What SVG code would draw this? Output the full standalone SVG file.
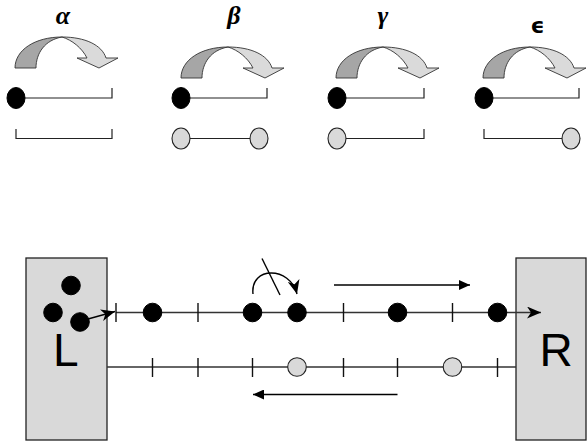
<svg xmlns="http://www.w3.org/2000/svg" xmlns:xlink="http://www.w3.org/1999/xlink" width="587" height="442" viewBox="0 0 587 442">
<style>
.greek{font-family:"Liberation Serif","DejaVu Serif",serif;font-weight:bold;font-style:italic;font-size:26px;fill:#000;text-anchor:middle}
.eps{font-family:"DejaVu Sans","Liberation Sans",sans-serif;font-weight:bold;font-size:22px;fill:#000;text-anchor:middle}
.big{font-family:"Liberation Sans",Arial,sans-serif;font-size:46px;fill:#000}
.thin{stroke:#222;stroke-width:1.2;fill:none}
.bdot{fill:#000;stroke:#000;stroke-width:1}
.gdot{fill:#d9d9d9;stroke:#222;stroke-width:1.1}
.box{fill:#d9d9d9;stroke:#222;stroke-width:1.3}
.track{stroke:#333;stroke-width:1.4;fill:none}
.tick{stroke:#111;stroke-width:1.4}
.conn{stroke:#000;stroke-width:1.4;fill:none}
.dark{fill:#a6a6a6;stroke:#333;stroke-width:0.9}
.light{fill:#dadada;stroke:#333;stroke-width:0.9}
</style>
<defs>
<g id="curl">
<path class="dark" d="M15,68 C15,50 35,37 62,37 C45,40 36,53 36,68 Z"/>
<path class="light" d="M62,37 C85,37 102,45 106,58 L118,58 L99,68 L77,58 L87,58 C82,48 72,40 62,37 Z"/>
</g>
<marker id="head" markerUnits="userSpaceOnUse" markerWidth="16" markerHeight="12" refX="14" refY="6" orient="auto">
<path d="M0,0 L14,6 L0,12 L4,6 Z" fill="#000"/>
</marker>
<marker id="tri" markerUnits="userSpaceOnUse" markerWidth="12" markerHeight="10" refX="11" refY="5" orient="auto">
<path d="M0,0 L11,5 L0,10 Z" fill="#000"/>
</marker>
</defs>

<g id="alpha">
<text class="greek" x="63" y="24">α</text>
<use xlink:href="#curl"/>
<path class="thin" d="M16,98 H112 V88"/>
<ellipse class="bdot" cx="16" cy="98" rx="9" ry="10.5"/>
<path class="thin" d="M16,129 V138.5 H112 V129"/>
</g>

<g id="beta">
<text class="greek" x="234" y="24">β</text>
<use xlink:href="#curl" transform="translate(166,10)"/>
<path class="thin" d="M181,98 H267 V88"/>
<ellipse class="bdot" cx="181" cy="98" rx="9" ry="10.5"/>
<path class="thin" d="M181,138.5 H259"/>
<ellipse class="gdot" cx="181" cy="138.5" rx="9" ry="10.5"/>
<ellipse class="gdot" cx="259" cy="138.5" rx="9" ry="10.5"/>
</g>

<g id="gamma">
<text class="greek" x="383" y="24">γ</text>
<use xlink:href="#curl" transform="translate(321,10)"/>
<path class="thin" d="M337,98 H424 V88"/>
<ellipse class="bdot" cx="337" cy="98" rx="9" ry="10.5"/>
<path class="thin" d="M337,138.5 H424 V129"/>
<ellipse class="gdot" cx="337" cy="138.5" rx="9" ry="10.5"/>
</g>

<g id="epsilon">
<text class="eps" x="537.5" y="33">ϵ</text>
<use xlink:href="#curl" transform="translate(468,10)"/>
<path class="thin" d="M484,98 H579 V88"/>
<ellipse class="bdot" cx="484" cy="98" rx="9" ry="10.5"/>
<path class="thin" d="M484,129 V138.5 H571"/>
<ellipse class="gdot" cx="571" cy="138.5" rx="9" ry="10.5"/>
</g>

<g id="L">
<rect class="box" x="26" y="258" width="81" height="182"/>
<text class="big" x="53" y="366">L</text>
<circle class="bdot" cx="71" cy="285.5" r="9.3"/>
<circle class="bdot" cx="53" cy="312.5" r="9.3"/>
<circle class="bdot" cx="80" cy="322" r="9.3"/>
</g>

<g id="R">
<rect class="box" x="516" y="258" width="70" height="182"/>
<text class="big" x="539.5" y="366">R</text>
</g>

<g id="connectors">
<path class="track" d="M116,312.5 H541" marker-end="url(#head)"/>
<path class="track" d="M107,367 H516"/>
<g class="tick">
<line x1="116" y1="303" x2="116" y2="322"/>
<line x1="198" y1="303" x2="198" y2="322"/>
<line x1="343.5" y1="303" x2="343.5" y2="322"/>
<line x1="452.5" y1="303" x2="452.5" y2="322"/>
<line x1="152.5" y1="358" x2="152.5" y2="377"/>
<line x1="198" y1="358" x2="198" y2="377"/>
<line x1="252.5" y1="358" x2="252.5" y2="377"/>
<line x1="343.5" y1="358" x2="343.5" y2="377"/>
<line x1="397.5" y1="358" x2="397.5" y2="377"/>
<line x1="497.5" y1="358" x2="497.5" y2="377"/>
</g>
<circle class="bdot" cx="152.5" cy="312.5" r="9.3"/>
<circle class="bdot" cx="252.5" cy="312.5" r="9.3"/>
<circle class="bdot" cx="297" cy="312.5" r="9.3"/>
<circle class="bdot" cx="397.5" cy="312.5" r="9.3"/>
<circle class="bdot" cx="497.5" cy="312.5" r="9.3"/>
<circle class="gdot" cx="297" cy="367" r="9.3"/>
<circle class="gdot" cx="452.5" cy="367" r="9.3"/>
<path class="conn" d="M88,319 L115,311.5" marker-end="url(#head)"/>
<path class="conn" d="M253,294 C250,266 290,266 297,294" marker-end="url(#head)"/>
<line class="conn" x1="262" y1="258.5" x2="280" y2="295"/>
<line class="conn" x1="334" y1="285" x2="470" y2="285" marker-end="url(#tri)"/>
<line class="conn" x1="397.5" y1="394.5" x2="253" y2="394.5" marker-end="url(#tri)"/>
</g>
</svg>
